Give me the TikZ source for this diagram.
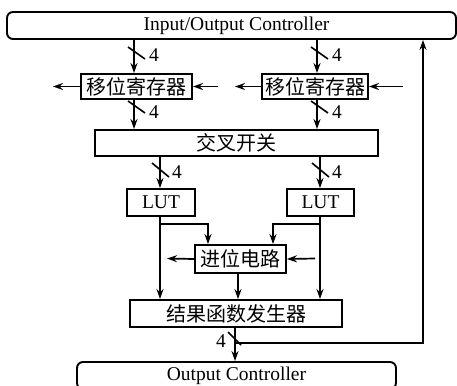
\documentclass[tikz,border=0pt]{standalone}
\usepackage{fontspec}
\setmainfont{Liberation Serif}
\newfontfamily\cjk{Noto Sans CJK SC}
\usetikzlibrary{arrows.meta}
\begin{document}
\begin{tikzpicture}[x=1pt,y=-1pt,
  every node/.style={font=\fontsize{19.5}{22}\selectfont, inner sep=0pt},
  blk/.style={draw, line width=1.9pt},
  cn/.style={font=\fontsize{20}{24}\selectfont\cjk},
  arr/.style={line width=1.7pt, -{Stealth[length=10pt,width=7pt]}},
  bus/.style={line width=1.6pt},
  buslabel/.style={anchor=center}]
\useasboundingbox (0,0) rectangle (457,385);

% blocks
\node[blk, rounded corners=6pt, minimum width=449pt, minimum height=27pt,
      label={[xshift=5pt]center:Input/Output Controller}] (io) at (231.5,25.5) {};
\node[blk, cn, minimum width=111pt, minimum height=25pt] (sr1) at (136.5,86.5) {移位寄存器};
\node[blk, cn, minimum width=106pt, minimum height=25pt] (sr2) at (315,86.5) {移位寄存器};
\node[blk, cn, minimum width=283pt, minimum height=26pt] (xb) at (236.5,143) {交叉开关};
\node[blk, minimum width=68pt, minimum height=27pt] (lut1) at (161,202.5) {LUT};
\node[blk, minimum width=67pt, minimum height=27pt] (lut2) at (320.5,202.5) {LUT};
\node[blk, cn, minimum width=91pt, minimum height=28pt] (carry) at (240.5,259) {进位电路};
\node[blk, cn, minimum width=212pt, minimum height=27pt] (res) at (236,313.5) {结果函数发生器};
\node[blk, rounded corners=6pt, minimum width=319pt, minimum height=27pt] (oc) at (236.5,375.5) {Output Controller};

% column and turning points
\coordinate (cL) at (134,0);
\coordinate (cR) at (317,0);
\coordinate (lL) at (160,0);
\coordinate (lR) at (320,0);
\coordinate (cc) at (238,0);
\coordinate (co) at (235,0);
\coordinate (bL) at (208,224);
\coordinate (bR) at (273,224);
\coordinate (fb) at (423,343);
\coordinate (a1) at (53,86.5);
\coordinate (a2) at (218,86.5);
\coordinate (a3) at (235,86.5);
\coordinate (a4) at (403,86.5);
\coordinate (a5) at (167,258.5);
\coordinate (a6) at (315,258.5);

% data paths
\draw[arr] (io.south -| cL) -- (sr1.north -| cL);
\draw[arr] (io.south -| cR) -- (sr2.north -| cR);
\draw[arr] (sr1.south -| cL) -- (xb.north -| cL);
\draw[arr] (sr2.south -| cR) -- (xb.north -| cR);
\draw[arr] (xb.south -| lL) -- (lut1.north -| lL);
\draw[arr] (xb.south -| lR) -- (lut2.north -| lR);
\draw[arr] (lut1.south -| lL) -- (res.north -| lL);
\draw[arr] (lut2.south -| lR) -- (res.north -| lR);
\draw[arr] (lL |- bL) -- (bL) -- (carry.north -| bL);
\draw[arr] (lR |- bR) -- (bR) -- (carry.north -| bR);
\draw[arr] (carry.south -| cc) -- (res.north -| cc);
\draw[arr] (res.south -| co) -- (oc.north -| co);
\draw[arr] (co |- fb) -- (fb) -- (io.south -| fb);

% shift and carry side outputs
\draw[arr] (sr1.west) -- (a1);
\draw[arr] (a2) -- (sr1.east);
\draw[arr] (sr2.west) -- (a3);
\draw[arr] (a4) -- (sr2.east);
\draw[arr] (carry.west) -- (a5);
\draw[arr] (a6) -- (carry.east);

% bus width marks
\draw[bus] (128,47) -- (145,59);  \node[buslabel] (w1) at (154,55) {4};
\draw[bus] (311,47) -- (328,59);  \node[buslabel] (w2) at (337,55) {4};
\draw[bus] (128,101) -- (145,113); \node[buslabel] (w3) at (154,112) {4};
\draw[bus] (311,101) -- (328,113); \node[buslabel] (w4) at (337,112) {4};
\draw[bus] (152,163) -- (169,177); \node[buslabel] (w5) at (177,172) {4};
\draw[bus] (312,163) -- (329,177); \node[buslabel] (w6) at (337,172) {4};
\draw[bus] (228,332) -- (241,345); \node[buslabel] (w7) at (221,341) {4};
\end{tikzpicture}
\end{document}
